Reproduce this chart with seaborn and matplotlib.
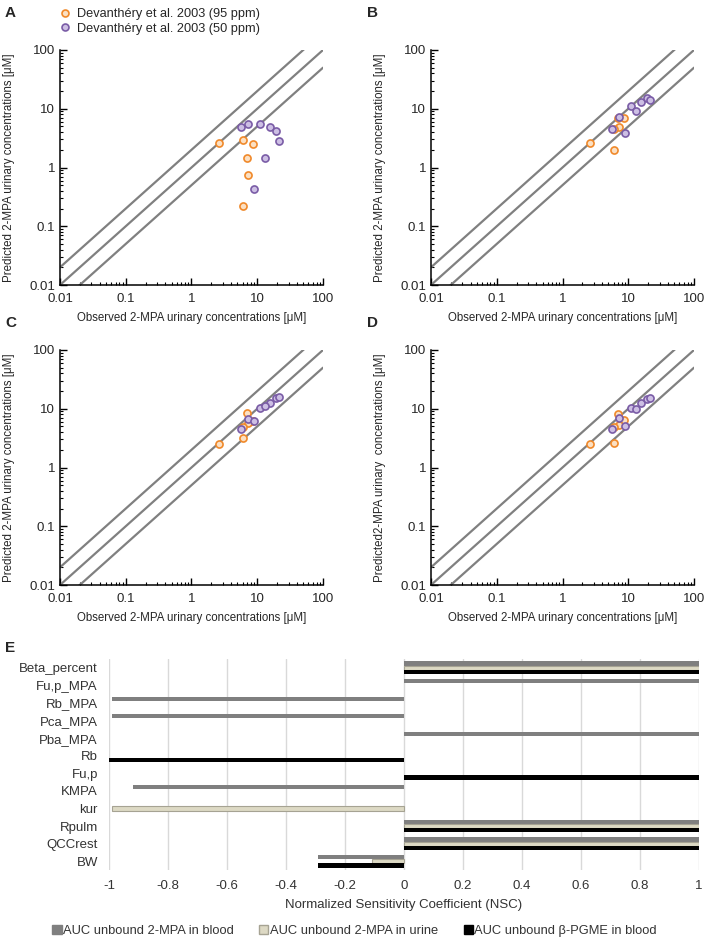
import matplotlib
matplotlib.use("Agg")
import matplotlib.pyplot as plt
from matplotlib.lines import Line2D
from matplotlib.patches import Patch
from matplotlib.ticker import FuncFormatter, LogLocator, NullFormatter
import pandas as pd
import seaborn as sns

sns.set_theme(style="white")
plt.rcParams["font.family"] = ["Liberation Sans", "DejaVu Sans"]

ORANGE_FACE = "#fbe0c3"
ORANGE_EDGE = "#f0892a"
PURPLE_FACE = "#cdbfe4"
PURPLE_EDGE = "#7a5ca6"
LINE_GREY = "#808080"
GREY_BAR = "#7f7f7f"
BEIGE_BAR = "#ddd9c4"
BEIGE_EDGE = "#a6a393"
BLACK_BAR = "#000000"

# ---- panels A-D: observed vs predicted 2-MPA urinary concentrations [uM]
obs_95 = [2.6, 6.0, 8.5, 7.0, 7.2, 6.0]
obs_50 = [5.6, 7.3, 11.2, 15.5, 19.0, 21.5, 13.2, 8.8]

pred_95_a = [2.6, 2.9, 2.55, 1.45, 0.75, 0.22]
pred_50_a = [4.9, 5.5, 5.4, 4.9, 4.2, 2.8, 1.45, 0.43]

pred_95_b = [2.6, 2.0, 7.0, 7.0, 4.8, 4.6]
pred_50_b = [4.6, 7.2, 11.0, 13.0, 15.0, 14.0, 9.0, 3.8]

pred_95_c = [2.5, 3.2, 6.3, 8.5, 5.7, 4.9]
pred_50_c = [4.5, 6.8, 10.5, 12.5, 15.0, 16.0, 11.0, 6.3]

pred_95_d = [2.55, 2.6, 6.5, 8.0, 5.2, 4.8]
pred_50_d = [4.5, 6.9, 10.5, 12.5, 14.5, 15.0, 10.0, 5.0]

ref_x = [0.01, 100]
fold_factors = [2, 1, 0.5]
decade_ticks = [0.01, 0.1, 1, 10, 100]

series_labels = ["Devanthéry et al. 2003 (95 ppm)", "Devanthéry et al. 2003 (50 ppm)"]

# ---- panel E: normalized sensitivity coefficients
params = ["Beta_percent", "Fu,p_MPA", "Rb_MPA", "Pca_MPA", "Pba_MPA", "Rb",
          "Fu,p", "KMPA", "kur", "Rpulm", "QCCrest", "BW"]
nsc_blood_mpa = [1.0, 1.0, -0.99, -0.99, 1.0, 0, 0, -0.92, 0, 1.0, 1.0, -0.29]
nsc_urine_mpa = [1.0, 0, 0, 0, 0, 0, 0, 0, -0.99, 1.0, 1.0, -0.11]
nsc_blood_pgme = [1.0, 0, 0, 0, 0, -1.0, 1.0, 0, 0, 1.0, 1.0, -0.29]
output_labels = ["AUC unbound 2-MPA in blood", "AUC unbound 2-MPA in urine",
                 "AUC unbound β-PGME in blood"]
nsc_ticks = [-1, -0.8, -0.6, -0.4, -0.2, 0, 0.2, 0.4, 0.6, 0.8, 1]

W, H = 709, 940
fig = plt.figure(figsize=(W / 100, H / 100), dpi=100)


def px_axes(left, top, right, bottom):
    return fig.add_axes([left / W, 1 - bottom / H, (right - left) / W, (bottom - top) / H])


def scatter_panel(ax, pred95, pred50, ylabel):
    for f in fold_factors:
        ax.plot(ref_x, [v * f for v in ref_x], color=LINE_GREY, lw=1.6, zorder=1)
    sns.scatterplot(x=obs_95, y=pred95, ax=ax, color=ORANGE_FACE, edgecolor=ORANGE_EDGE,
                    linewidth=1.2, s=26, zorder=3)
    sns.scatterplot(x=obs_50, y=pred50, ax=ax, color=PURPLE_FACE, edgecolor=PURPLE_EDGE,
                    linewidth=1.2, s=26, zorder=3)
    ax.set_xscale("log")
    ax.set_yscale("log")
    ax.set_xlim(0.01, 100)
    ax.set_ylim(0.01, 100)
    for axis in (ax.xaxis, ax.yaxis):
        axis.set_major_locator(LogLocator(base=10))
        axis.set_minor_locator(LogLocator(base=10, subs=range(2, 10)))
        axis.set_major_formatter(FuncFormatter(lambda v, p: f"{v:g}"))
        axis.set_minor_formatter(NullFormatter())
    ax.set_xticks(decade_ticks)
    ax.set_yticks(decade_ticks)
    ax.tick_params(which="major", direction="in", length=5, width=1, labelsize=9.5,
                   color="black", left=True, bottom=True)
    ax.tick_params(axis="x", which="major", pad=6)
    ax.tick_params(which="minor", direction="in", length=2.5, width=0.8,
                   color="black", left=True, bottom=True)
    for s in ("top", "right"):
        ax.spines[s].set_visible(False)
    for s in ("left", "bottom"):
        ax.spines[s].set_color("black")
        ax.spines[s].set_linewidth(1.1)
    ax.set_xlabel("Observed 2-MPA urinary concentrations [μM]", fontsize=8.3, labelpad=5)
    ax.set_ylabel(ylabel, fontsize=8.3)
    ax.yaxis.set_label_coords(-0.172, 0.5)
    ax.grid(False)


ax_a = px_axes(60, 50, 323, 285)
ax_b = px_axes(431, 50, 694, 285)
ax_c = px_axes(60, 350, 323, 585)
ax_d = px_axes(431, 350, 694, 585)

pred_label = "Predicted 2-MPA urinary concentrations [μM]"
scatter_panel(ax_a, pred_95_a, pred_50_a, pred_label)
scatter_panel(ax_b, pred_95_b, pred_50_b, pred_label)
scatter_panel(ax_c, pred_95_c, pred_50_c, pred_label)
scatter_panel(ax_d, pred_95_d, pred_50_d, "Predicted2-MPA urinary  concentrations [μM]")

# top legend
handles = [
    Line2D([], [], ls="", marker="o", ms=5, mew=1.2, mfc=ORANGE_FACE, mec=ORANGE_EDGE,
           label=series_labels[0]),
    Line2D([], [], ls="", marker="o", ms=5, mew=1.2, mfc=PURPLE_FACE, mec=PURPLE_EDGE,
           label=series_labels[1]),
]
fig.legend(handles=handles, loc="upper left", bbox_to_anchor=(51 / W, 1.0 - 0.5 / H),
           frameon=False, fontsize=9.2, handlelength=1.0, handletextpad=0.4,
           labelspacing=0.2, borderpad=0.1)

# ---- panel E
ax_e = px_axes(109, 659, 699, 870)
df_e = pd.DataFrame({
    "param": params * 3,
    "nsc": nsc_blood_mpa + nsc_urine_mpa + nsc_blood_pgme,
    "output": [output_labels[0]] * len(params) + [output_labels[1]] * len(params)
              + [output_labels[2]] * len(params),
})
sns.barplot(data=df_e, y="param", x="nsc", hue="output", orient="h",
            palette=[GREY_BAR, BEIGE_BAR, BLACK_BAR], saturation=1, width=0.72,
            errorbar=None, linewidth=0, legend=False, ax=ax_e, zorder=2)
beige_rgba = matplotlib.colors.to_rgba(BEIGE_BAR)
for p in ax_e.patches:
    if p.get_facecolor() == beige_rgba and abs(p.get_width()) > 0:
        p.set_edgecolor(BEIGE_EDGE)
        p.set_linewidth(0.8)
ax_e.set_xlim(-1, 1)
ax_e.set_xticks(nsc_ticks)
ax_e.xaxis.set_major_formatter(FuncFormatter(lambda v, p: f"{v:g}"))
ax_e.grid(axis="x", color="#d9d9d9", lw=1)
ax_e.grid(axis="y", visible=False)
ax_e.set_axisbelow(True)
for s in ax_e.spines.values():
    s.set_visible(False)
ax_e.tick_params(axis="both", length=0, labelsize=9.5, colors="#333333")
ax_e.tick_params(axis="y", pad=8)
ax_e.tick_params(axis="x", pad=7)
ax_e.set_ylabel("")
ax_e.set_xlabel("Normalized Sensitivity Coefficient (NSC)", fontsize=9.5, color="#333333",
                labelpad=5)

legend_e = [
    Patch(facecolor=GREY_BAR, edgecolor=GREY_BAR, label=output_labels[0]),
    Patch(facecolor=BEIGE_BAR, edgecolor=BEIGE_EDGE, label=output_labels[1]),
    Patch(facecolor=BLACK_BAR, edgecolor=BLACK_BAR, label=output_labels[2]),
]
leg = fig.legend(handles=legend_e, loc="center", bbox_to_anchor=(0.5, 1 - 931 / H), ncol=3,
                 frameon=False, fontsize=9.3, handlelength=0.7, handleheight=0.7,
                 handletextpad=0.1, columnspacing=2.0)
for t in leg.get_texts():
    t.set_color("#333333")

# panel letters
for letter, (x, y) in {"A": (5, 13), "B": (367, 13), "C": (5, 323),
                       "D": (367, 323), "E": (5, 648)}.items():
    fig.text(x / W, 1 - y / H, letter, fontsize=11, fontweight="bold", va="center", ha="left")

fig.savefig("out.png", dpi=100, facecolor="white")
